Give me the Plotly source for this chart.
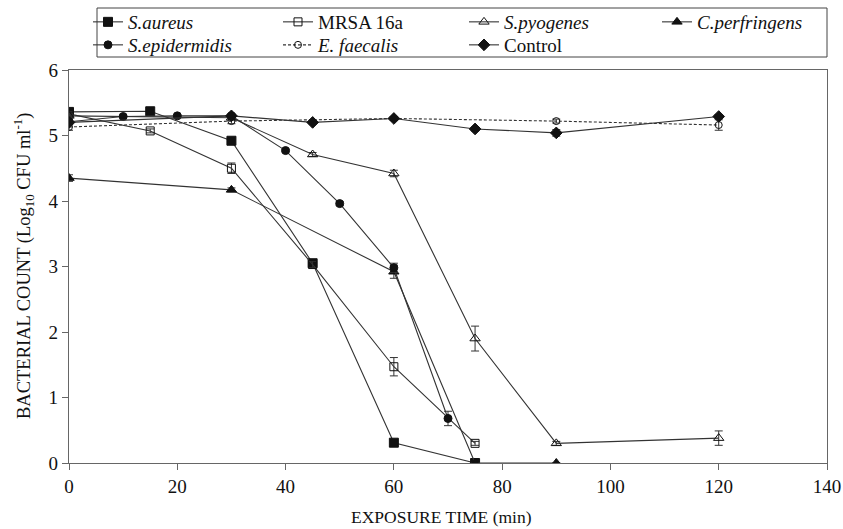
import plotly.graph_objects as go

# ---- data ----
sa_x = [0, 15, 30, 45, 60, 75]
sa_y = [5.36, 5.37, 4.92, 3.05, 0.31, 0.0]

mrsa_x = [0, 15, 30, 45, 60, 75]
mrsa_y = [5.33, 5.07, 4.50, 3.03, 1.47, 0.30]
mrsa_e = [0.03, 0.03, 0.08, 0.05, 0.14, 0.03]

spy_x = [0, 30, 45, 60, 75, 90, 120]
spy_y = [5.30, 5.27, 4.71, 4.42, 1.90, 0.30, 0.38]
spy_e = [0.03, 0.03, 0.03, 0.05, 0.19, 0.03, 0.11]

cp_x = [0, 30, 60, 75, 90]
cp_y = [4.35, 4.17, 2.92, 0.0, 0.0]
cp_e = [0.05, 0.03, 0.10, 0.0, 0.0]

sep_x = [0, 10, 20, 30, 40, 50, 60, 70]
sep_y = [5.21, 5.29, 5.30, 5.30, 4.77, 3.96, 2.98, 0.68]
sep_e = [0.03, 0.02, 0.02, 0.02, 0.02, 0.03, 0.07, 0.11]

ef_x = [0, 30, 60, 90, 120]
ef_y = [5.13, 5.22, 5.26, 5.22, 5.16]
ef_e = [0.05, 0.04, 0.03, 0.03, 0.08]

ctl_x = [0, 30, 45, 60, 75, 90, 120]
ctl_y = [5.20, 5.30, 5.20, 5.26, 5.10, 5.04, 5.29]
ctl_e = [0.03, 0.03, 0.02, 0.03, 0.03, 0.05, 0.03]

x_ticks = [0, 20, 40, 60, 80, 100, 120, 140]
y_ticks = [0, 1, 2, 3, 4, 5, 6]

x_title = "EXPOSURE TIME (min)"
y_title = "BACTERIAL COUNT (Log<sub>10</sub> CFU ml<sup>-1</sup>)"

LINE = "#333333"
MK = "#111111"
AX = "#666666"
FONT = "Liberation Serif"

# plot-area geometry in pixels (for converting legend positions)
L, R, T, B = 69, 827, 70, 463
PW, PH = R - L, B - T


def px_x(p):
    return (p - L) / PW


def px_y(p):
    return (B - p) / PH


fig = go.Figure()


def add(name, x, y, symbol, size, legend, err=None, dash="solid", fill=MK):
    tr = dict(
        x=x, y=y, name=name, mode="lines+markers", legend=legend,
        line=dict(color=LINE, width=1.1, dash=dash),
        marker=dict(symbol=symbol, size=size, color=fill,
                    line=dict(color=MK, width=1)),
    )
    if err is not None:
        tr["error_y"] = dict(type="data", array=err, visible=True,
                             color=LINE, thickness=1, width=4)
    fig.add_trace(go.Scatter(**tr))


add("<i>S.aureus</i>", sa_x, sa_y, "square", 9, "legend")
add("MRSA 16a", mrsa_x, mrsa_y, "square-open", 8, "legend2", mrsa_e)
add("<i>S.pyogenes</i>", spy_x, spy_y, "triangle-up-open", 9, "legend3", spy_e)
add("<i>C.perfringens</i>", cp_x, cp_y, "triangle-up", 9, "legend4", cp_e)
add("<i>S.epidermidis</i>", sep_x, sep_y, "circle", 8, "legend5", sep_e)
add("<i>E. faecalis</i>", ef_x, ef_y, "circle-open", 7, "legend6", ef_e, dash="3px,2px")
add("Control", ctl_x, ctl_y, "diamond", 9, "legend7", ctl_e)

axis_common = dict(
    showgrid=False, zeroline=False, showline=True, linecolor=AX,
    linewidth=1.3, mirror=True, ticks="outside", ticklen=6, tickwidth=1,
    tickcolor=AX, tickfont=dict(family=FONT, size=19, color="#111"),
)


def leg(xpx, ypx):
    return dict(orientation="v", x=px_x(xpx), y=px_y(ypx),
                xanchor="left", yanchor="middle", itemwidth=30,
                bgcolor="rgba(0,0,0,0)", borderwidth=0, tracegroupgap=0,
                font=dict(family=FONT, size=19, color="#111"))


cols = [88, 278, 464, 657]
rows = [22, 45]

fig.update_layout(
    width=843, height=529,
    margin=dict(l=L, r=843 - R, t=T, b=529 - B, autoexpand=False),
    paper_bgcolor="white", plot_bgcolor="white",
    font=dict(family=FONT, size=18, color="#111"),
    xaxis=dict(range=[0, 140], tickvals=x_ticks, **axis_common),
    yaxis=dict(range=[0, 6], tickvals=y_ticks, **axis_common),
    legend=leg(cols[0], rows[0]),
    legend2=leg(cols[1], rows[0]),
    legend3=leg(cols[2], rows[0]),
    legend4=leg(cols[3], rows[0]),
    legend5=leg(cols[0], rows[1]),
    legend6=leg(cols[1], rows[1]),
    legend7=leg(cols[2], rows[1]),
    showlegend=True,
    shapes=[dict(type="rect", xref="paper", yref="paper",
                 x0=px_x(97), x1=1.0, y0=px_y(57), y1=px_y(8),
                 line=dict(color="#444", width=1), fillcolor="rgba(0,0,0,0)")],
    annotations=[
        dict(text=x_title, xref="paper", yref="paper", x=px_x(441), y=px_y(517),
             xanchor="center", yanchor="middle", showarrow=False,
             font=dict(family=FONT, size=17.5, color="#111")),
        dict(text=y_title, xref="paper", yref="paper", x=px_x(23), y=px_y(266),
             xanchor="center", yanchor="middle", showarrow=False, textangle=-90,
             font=dict(family=FONT, size=18.5, color="#111")),
    ],
)

fig.write_html("out.html")
